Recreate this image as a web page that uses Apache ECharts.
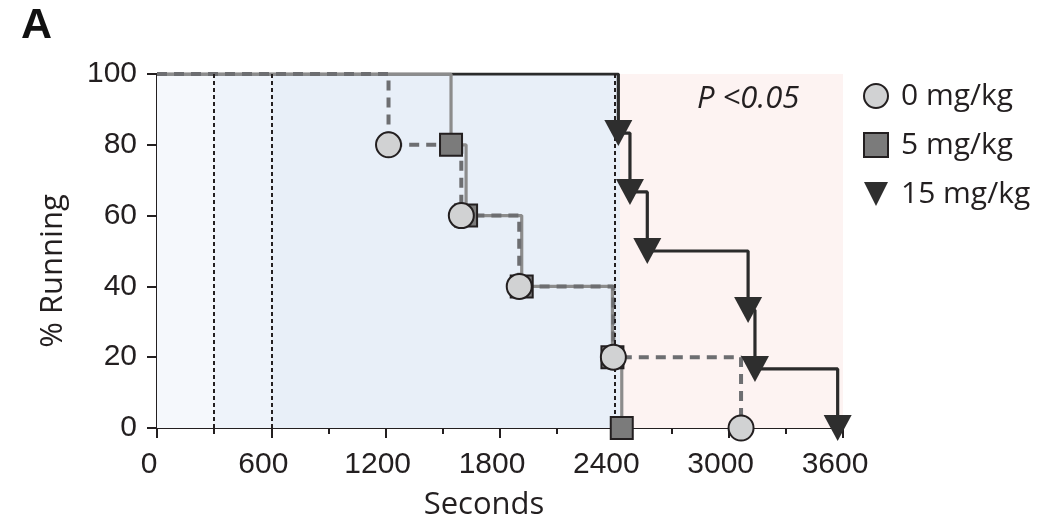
<!DOCTYPE html>
<html>
<head>
<meta charset="utf-8">
<script src="https://cdn.jsdelivr.net/npm/echarts@6/dist/echarts.min.js"></script>
<style>
  html, body { margin: 0; padding: 0; background: #fff; }
  #main { width: 1042px; height: 531px; }
</style>
</head>
<body>
<div id="main"></div>
<script>
// event times (s) and % still running after each event
const times0 = [0, 1215, 1597, 1901, 2395, 3065];
const pct0 = [100, 80, 60, 40, 20, 0];
const times5 = [0, 1543, 1622, 1914, 2390, 2439];
const pct5 = [100, 80, 60, 40, 20, 0];
const times15 = [0, 2421, 2482, 2573, 3102, 3138, 3572];
const pct15 = [100, 83.3, 66.7, 50, 33.3, 16.7, 0];

const groupNames = ['0 mg/kg', '5 mg/kg', '15 mg/kg'];
// shaded phases on the time axis
const phaseStarts = [0, 300, 600, 2430];
const phaseEnds = [300, 600, 2430, 3600];
const phaseColors = ['#f5f8fc', '#eef3fa', '#e8eff8', '#fdf3f2'];
// dotted reference lines
const refTimes = [300, 600, 2400];

var chartDom = document.getElementById('main');
var myChart = echarts.init(chartDom);

const pairs = (xs, ys) => xs.map((x, i) => [x, ys[i]]);
const txt = '#231f20';
const triangle = 'path://M0,0L10,0L5,10Z';

const marks = [
  { name: groupNames[0], data: pairs(times0, pct0), symbol: 'circle', size: 25, fill: '#d1d2d3', border: txt, bw: 2 },
  { name: groupNames[1], data: pairs(times5, pct5), symbol: 'rect', size: 22, fill: '#7b7b7b', border: txt, bw: 2 },
  { name: groupNames[2], data: pairs(times15, pct15), symbol: triangle, size: [28, 26], fill: '#2e2e2e', border: '#2e2e2e', bw: 0 }
];
const lineStyles = [
  { color: '#6d6e71', width: 4, type: [10, 7] },
  { color: '#8c8c8c', width: 3.2, type: 'solid' },
  { color: '#2b2b2b', width: 3.2, type: 'solid' }
];
const lineZ = [3, 2, 1];

let series = [];
// marker series first so the legend takes its icon from them
marks.forEach((m, i) => {
  series.push({
    name: m.name,
    type: 'scatter',
    z: 6 + (2 - i),
    symbol: m.symbol,
    symbolSize: m.size,
    itemStyle: { color: m.fill, borderColor: m.border, borderWidth: m.bw, opacity: 1 },
    data: m.data.slice(1),
    silent: true
  });
});
marks.forEach((m, i) => {
  series.push({
    name: m.name,
    type: 'line',
    step: 'end',
    z: lineZ[i],
    showSymbol: false,
    lineStyle: lineStyles[i],
    data: m.data,
    silent: true
  });
});
// background phases
series.push({
  type: 'line',
  z: 0,
  data: [],
  markArea: {
    silent: true,
    data: phaseStarts.map((s, i) => [
      { xAxis: s, itemStyle: { color: phaseColors[i] } },
      { xAxis: phaseEnds[i] }
    ])
  }
});
// dotted lines
series.push({
  type: 'line',
  z: 5,
  data: [],
  markLine: {
    silent: true,
    symbol: 'none',
    label: { show: false },
    lineStyle: { color: txt, width: 2, type: [4, 3] },
    data: refTimes.map(t => ({ xAxis: t }))
  }
});

var option = {
  backgroundColor: '#fff',
  animation: false,
  grid: { left: 157, right: 199, top: 74, bottom: 103 },
  xAxis: {
    type: 'value',
    min: 0,
    max: 3600,
    interval: 600,
    name: 'Seconds',
    nameLocation: 'middle',
    nameGap: 62,
    nameTextStyle: { fontFamily: 'Open Sans', fontSize: 31, color: txt, padding: [0, 32, 0, 0] },
    axisLine: { lineStyle: { color: txt, width: 2 } },
    axisTick: { length: 10, lineStyle: { color: txt, width: 2 } },
    minorTick: { show: true, splitNumber: 2, length: 6, lineStyle: { color: txt, width: 2 } },
    splitLine: { show: false },
    axisLabel: {
      fontFamily: 'Liberation Sans', fontSize: 30, color: txt, margin: 22, padding: [0, 16, 0, 0],
      formatter: v => String(v)
    }
  },
  yAxis: {
    type: 'value',
    min: 0,
    max: 100,
    interval: 20,
    name: '% Running',
    nameLocation: 'middle',
    nameGap: 88,
    nameTextStyle: { fontFamily: 'Open Sans', fontSize: 31, color: txt, padding: [0, 40, 0, 0] },
    axisLine: { show: true, lineStyle: { color: txt, width: 2 } },
    axisTick: { show: true, length: 10, lineStyle: { color: txt, width: 2 } },
    splitLine: { show: false },
    axisLabel: { fontFamily: 'Liberation Sans', fontSize: 30, color: txt, margin: 20 }
  },
  legend: {
    data: groupNames,
    orient: 'vertical',
    left: 858,
    top: 74,
    itemWidth: 24,
    itemHeight: 24,
    itemGap: 15,
    selectedMode: false,
    textStyle: { fontFamily: 'Open Sans', fontSize: 30, color: txt, lineHeight: 34, padding: [0, 0, 0, 8] }
  },
  graphic: [
    {
      type: 'text',
      left: 21,
      top: 5,
      z: 100,
      style: { text: 'A', font: 'bold 43px "Liberation Sans"', fill: '#111' }
    },
    {
      type: 'text',
      left: 697,
      top: 84,
      z: 100,
      style: { text: 'P <0.05', font: 'italic 31px "Open Sans"', fill: txt }
    }
  ],
  series: series
};

option && myChart.setOption(option, true);
window.onresize = () => {
  myChart.resize();
};
</script>
</body>
</html>
